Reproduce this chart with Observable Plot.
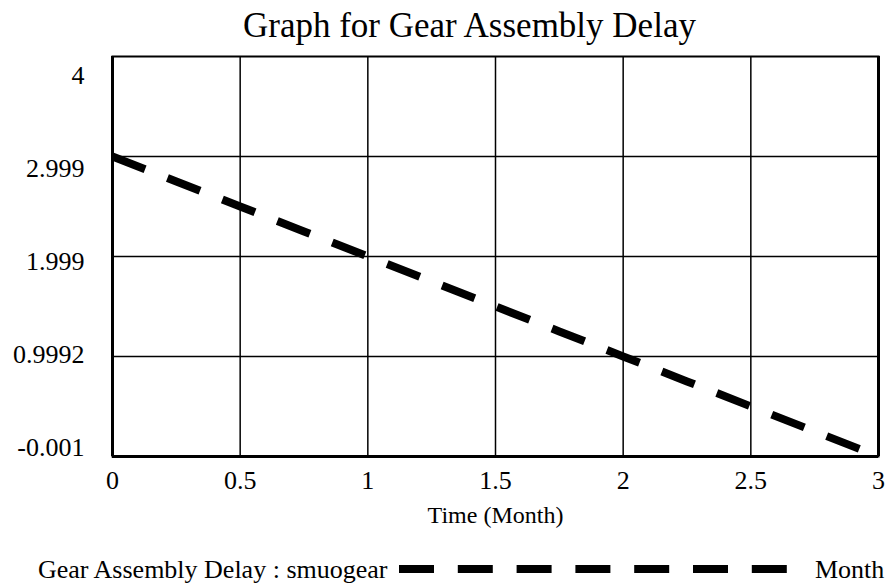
<!DOCTYPE html>
<html>
<head>
<meta charset="utf-8">
<script src="https://cdn.jsdelivr.net/npm/d3@7"></script>
<script src="https://cdn.jsdelivr.net/npm/@observablehq/plot@0.6"></script>
<style>
  html, body { margin: 0; padding: 0; background: #fff; }
  #wrap { position: relative; width: 895px; height: 586px; font-family: "Liberation Serif", "Times New Roman", serif; }
  #wrap > svg { position: absolute; left: 0; top: 0; }
</style>
</head>
<body>
<div id="wrap"></div>
<script>
// ---- data ----
const title = "Graph for Gear Assembly Delay";
const xLabel = "Time (Month)";
const seriesName = "Gear Assembly Delay : smuogear";
const unitLabel = "Month";
const time = [0, 0.25, 0.5, 0.75, 1, 1.25, 1.5, 1.75, 2, 2.25, 2.5, 2.75, 3];
const delay = [3, 2.75, 2.5, 2.25, 2, 1.75, 1.5, 1.25, 1, 0.75, 0.5, 0.25, 0];
const xTicks = [0, 0.5, 1, 1.5, 2, 2.5, 3];
const yTicks = [4, 2.999, 1.999, 0.9992, -0.001];
const yTickLabels = ["4", "2.999", "1.999", "0.9992", "-0.001"];

const rows = time.map((t, i) => ({t, v: delay[i]}));

const font = '"Liberation Serif", "Times New Roman", serif';

// y labels in the original are spread slightly inside the frame (evenly spaced)
const yAxes = yTicks.map((v, i) =>
  Plot.axisY([v], {tickSize: 0, tickPadding: 28, fontSize: 26, label: null,
    tickFormat: () => yTickLabels[i], dy: 19 - 7 * i}));

const chart = Plot.plot({
  width: 895,
  height: 586,
  marginTop: 56,
  marginBottom: 130,
  marginLeft: 112,
  marginRight: 17,
  style: {fontFamily: font, fontSize: "26px", color: "#000", background: "transparent", overflow: "visible"},
  x: {domain: [0, 3]},
  y: {domain: [-0.001, 4]},
  marks: [
    Plot.gridX(xTicks.slice(1, -1), {stroke: "#000", strokeOpacity: 1, strokeWidth: 1.5}),
    Plot.gridY(yTicks.slice(1, -1), {stroke: "#000", strokeOpacity: 1, strokeWidth: 1.5}),
    Plot.axisX(xTicks, {tickSize: 0, tickPadding: 14, fontSize: 26, label: null, tickFormat: d => String(d)}),
    ...yAxes,
    Plot.text([xLabel], {frameAnchor: "bottom", dy: 66, fontSize: 24, fill: "#000"}),
    Plot.frame({stroke: "#000", strokeWidth: 2}),
    Plot.ruleX([0], {stroke: "#000", strokeWidth: 3}),
    Plot.ruleX([3], {stroke: "#000", strokeWidth: 3}),
    Plot.ruleY([-0.001], {stroke: "#000", strokeWidth: 3}),
    Plot.line(rows, {x: "t", y: "v", stroke: "#000", strokeWidth: 8, strokeDasharray: "35,24", strokeLinecap: "butt"})
  ]
});
document.getElementById("wrap").appendChild(chart);

// title and legend overlay
const ov = d3.select("#wrap").append("svg")
  .attr("width", 895).attr("height", 586)
  .style("font-family", font);
ov.append("text").attr("x", 243).attr("y", 37).attr("font-size", 35).attr("fill", "#000").text(title);
ov.append("text").attr("x", 38).attr("y", 578).attr("font-size", 26).attr("fill", "#000").text(seriesName);
ov.append("line").attr("x1", 399).attr("x2", 787).attr("y1", 569).attr("y2", 569)
  .attr("stroke", "#000").attr("stroke-width", 8).attr("stroke-dasharray", "35,23.8");
ov.append("text").attr("x", 815).attr("y", 578).attr("font-size", 26).attr("fill", "#000").text(unitLabel);
</script>
</body>
</html>
